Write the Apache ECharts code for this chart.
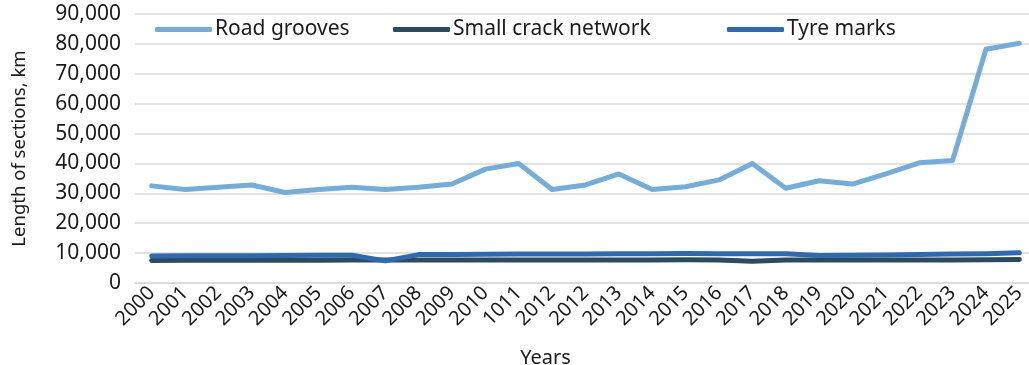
<!DOCTYPE html>
<html>
<head>
<meta charset="utf-8">
<script src="https://cdn.jsdelivr.net/npm/echarts@6/dist/echarts.min.js"></script>
<style>html,body{margin:0;padding:0;background:#fff}#c{width:1029px;height:365px}</style>
</head>
<body>
<div id="c"></div>
<script>
const categories = ['2000','2001','2002','2003','2004','2005','2006','2007','2008','2009','2010','1011','2012','2012','2013','2014','2015','2016','2017','2018','2019','2020','2021','2022','2023','2024','2025'];
const roadGrooves = [32500,31300,32000,32800,30300,31300,32000,31300,32000,33100,38100,40000,31300,32800,36500,31300,32200,34500,40000,31700,34200,33100,36500,40200,41000,78200,80200];
const smallCrack = [7500,7600,7600,7600,7600,7600,7700,7700,7700,7700,7700,7700,7700,7700,7700,7700,7800,7700,7300,7700,7700,7700,7700,7700,7700,7800,7900];
const tyreMarks = [9000,9100,9100,9100,9200,9300,9300,7400,9500,9500,9600,9700,9700,9700,9800,9800,9900,9800,9800,9800,9200,9300,9400,9500,9700,9800,10100];
const yTicks = {min:0, max:90000, interval:10000};
const seriesNames = ['Road grooves','Small crack network','Tyre marks'];
const colors = ['#76acd8','#2c4b5f','#2f6aae'];

const font = '"Noto Sans", sans-serif';
const chart = echarts.init(document.getElementById('c'), null, {renderer:'canvas'});
const mkLegend = (i, left) => ({
  data:[seriesNames[i]], left:left, top:19, itemWidth:57, itemHeight:5, icon:'roundRect', padding:0,
  textStyle:{fontFamily:font, fontSize:21, color:'#1a1a1a', padding:[0,0,0,-2]}
});
chart.setOption({
  animation:false,
  color: colors,
  textStyle:{fontFamily:font},
  grid:{left:135, right:-7, top:14, bottom:82, containLabel:false, outerBoundsMode:'none'},
  legend:[mkLegend(0,155), mkLegend(1,393), mkLegend(2,727)],
  xAxis:{
    type:'category', data:categories, boundaryGap:true,
    name:'Years', nameLocation:'middle', nameGap:65,
    nameTextStyle:{fontFamily:font, fontSize:20, color:'#1a1a1a', padding:[0,80,0,0]},
    axisLine:{lineStyle:{color:'#d9d9d9', width:1.5}},
    axisTick:{show:false},
    axisLabel:{rotate:45, interval:0, fontFamily:font, fontSize:20, color:'#1a1a1a', margin:7}
  },
  yAxis:{
    type:'value', min:yTicks.min, max:yTicks.max, interval:yTicks.interval,
    name:'Length of sections, km', nameLocation:'middle', nameGap:106,
    nameTextStyle:{fontFamily:font, fontSize:18.5, color:'#1a1a1a'},
    axisLine:{show:false}, axisTick:{show:false},
    axisLabel:{fontFamily:font, fontSize:21, color:'#1a1a1a', margin:14, padding:[6,0,0,0],
      formatter:v=>v.toLocaleString('en-US')},
    splitLine:{lineStyle:{color:'#d9d9d9', width:1.5}}
  },
  series:[
    {name:seriesNames[0], type:'line', data:roadGrooves, symbol:'none', lineStyle:{width:5, cap:'round', join:'round'}},
    {name:seriesNames[1], type:'line', data:smallCrack, symbol:'none', lineStyle:{width:5, cap:'round', join:'round'}},
    {name:seriesNames[2], type:'line', data:tyreMarks, symbol:'none', lineStyle:{width:5, cap:'round', join:'round'}}
  ]
});
</script>
</body>
</html>
